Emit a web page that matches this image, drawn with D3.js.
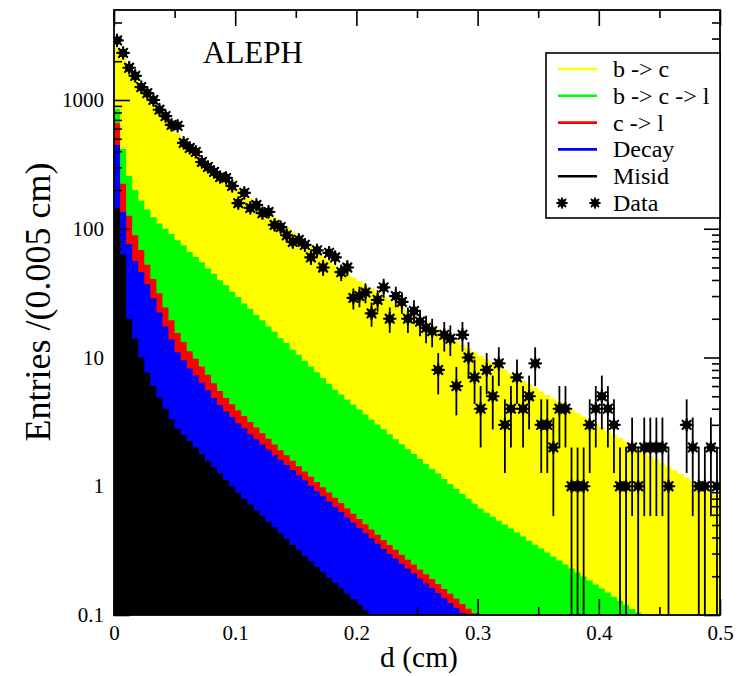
<!DOCTYPE html>
<html>
<head>
<meta charset="utf-8">
<script src="https://cdn.jsdelivr.net/npm/d3@7"></script>
<style>
  html, body { margin: 0; padding: 0; background: #fff; }
  svg { display: block; font-family: "Liberation Serif", "Times New Roman", serif; }
  svg text { font-family: "Liberation Serif", "Times New Roman", serif; }
</style>
</head>
<body>
<svg id="chart" width="746" height="676"></svg>
<script>
// Impact parameter d, bins of 0.005 cm from 0 to 0.5 cm
const binWidth = 0.005;
const binStarts = d3.range(100).map(i => +(i * binWidth).toFixed(3));

// Monte Carlo components (entries per bin), stacked bottom -> top
const misid = [144, 63, 20, 14, 10, 7.6, 6.0, 4.9, 4.0, 3.3,
  2.8, 2.5, 2.24, 2.0, 1.78, 1.58, 1.41, 1.26, 1.12, 1.0,
  0.89, 0.8, 0.72, 0.65, 0.59, 0.53, 0.48, 0.43, 0.39, 0.35,
  0.32, 0.287, 0.261, 0.237, 0.215, 0.195, 0.177, 0.161, 0.146, 0.132,
  0.12, 0.109, 0.099, 0.09, 0.082, 0.074, 0.068, 0.061, 0.056, 0.051,
  0.046, 0.042, 0.038, 0.034, 0.031, 0.028, 0.026, 0.023, 0.021, 0.019,
  0.017, 0.016, 0.014, 0.013, 0.012, 0.011, 0.0097, 0.0088, 0.008, 0.0073,
  0.0066, 0.006, 0.0055, 0.005, 0.0045, 0.0041, 0.0037, 0.0034, 0.0031, 0.0028,
  0.0025, 0.0023, 0.0021, 0.0019, 0.0017, 0.0016, 0.0014, 0.0013, 0.0012, 0.0011,
  0.001, 0.0009, 0.0008, 0.0007, 0.0007, 0.0006, 0.0005, 0.0005, 0.0004, 0.0004];

const decay = [303, 72, 55.9, 42.2, 36.2, 29.6, 22.8, 17.5, 13.4, 10.5,
  8.2, 7.07, 5.97, 5.24, 4.60, 3.98, 3.43, 3.01, 2.68, 2.45,
  2.20, 2.01, 1.82, 1.67, 1.52, 1.39, 1.27, 1.16, 1.07, 0.986,
  0.897, 0.819, 0.748, 0.681, 0.621, 0.565, 0.515, 0.469, 0.427, 0.389,
  0.354, 0.322, 0.293, 0.267, 0.243, 0.224, 0.205, 0.189, 0.173, 0.159,
  0.146, 0.134, 0.124, 0.114, 0.104, 0.096, 0.088, 0.081, 0.074, 0.069,
  0.063, 0.057, 0.053, 0.048, 0.044, 0.041, 0.038, 0.035, 0.032, 0.029,
  0.027, 0.025, 0.023, 0.021, 0.019, 0.017, 0.016, 0.015, 0.013, 0.012,
  0.011, 0.010, 0.0094, 0.0086, 0.0079, 0.0072, 0.0066, 0.006, 0.0055, 0.0051,
  0.0046, 0.0042, 0.0039, 0.0036, 0.0033, 0.003, 0.0027, 0.0025, 0.0023, 0.0021];

const cToL = [214, 89, 50.1, 32.9, 22.2, 15.3, 11.9, 9.2, 7.1, 5.7,
  4.5, 3.63, 2.99, 2.53, 2.13, 1.77, 1.47, 1.23, 1.04, 0.89,
  0.80, 0.70, 0.616, 0.54, 0.474, 0.414, 0.363, 0.317, 0.279, 0.244,
  0.213, 0.194, 0.177, 0.161, 0.146, 0.133, 0.121, 0.110, 0.100, 0.091,
  0.083, 0.076, 0.069, 0.063, 0.057, 0.052, 0.048, 0.044, 0.040, 0.037,
  0.034, 0.031, 0.028, 0.026, 0.024, 0.022, 0.020, 0.018, 0.017, 0.015,
  0.014, 0.0128, 0.0118, 0.0107, 0.0098, 0.0091, 0.0083, 0.0076, 0.007, 0.0064,
  0.0058, 0.0053, 0.0049, 0.0045, 0.0041, 0.0038, 0.0034, 0.0031, 0.0029, 0.0026,
  0.0024, 0.0022, 0.002, 0.0018, 0.0017, 0.0015, 0.0014, 0.0013, 0.0012, 0.0011,
  0.001, 0.0009, 0.0008, 0.0008, 0.0007, 0.0006, 0.0006, 0.0005, 0.0005, 0.0004];

const bToCToL = [190, 193, 131, 111, 97.6, 88.5, 82.3, 78.4, 75.5, 71.7,
  65.8, 60.9, 54.9, 50.5, 46.5, 41.7, 38.4, 34.3, 31.5, 28.1,
  25.6, 22.8, 20.8, 18.5, 16.9, 15.1, 13.7, 12.2, 11.2, 9.92,
  9.07, 8.14, 7.32, 6.59, 5.94, 5.35, 4.81, 4.41, 4.04, 3.70,
  3.38, 3.10, 2.84, 2.60, 2.39, 2.18, 2.0, 1.83, 1.67, 1.53,
  1.40, 1.28, 1.17, 1.08, 0.981, 0.894, 0.821, 0.752, 0.688, 0.629,
  0.576, 0.538, 0.502, 0.469, 0.438, 0.408, 0.381, 0.355, 0.331, 0.309,
  0.289, 0.269, 0.251, 0.235, 0.219, 0.205, 0.191, 0.178, 0.166, 0.155,
  0.145, 0.135, 0.125, 0.117, 0.109, 0.101, 0.095, 0.089, 0.083, 0.077,
  0.072, 0.067, 0.063, 0.058, 0.054, 0.051, 0.047, 0.044, 0.041, 0.038];

const bToC = [1719, 1721, 1521, 1279, 1093, 931, 789, 684, 592, 526,
  469, 416, 371, 329, 300, 275, 250, 229, 209, 192,
  175, 161, 148, 137, 126, 116, 107, 98.4, 90.4, 83.3,
  76.6, 70.6, 65, 59.8, 55, 50.7, 46.6, 42.9, 40.2, 37.7,
  35.4, 33.1, 31.1, 29.1, 27.3, 25.6, 24, 22.5, 21.1, 19.7,
  18.5, 17.3, 16.2, 15.3, 14.3, 13.4, 12.5, 11.7, 11.0, 10.3,
  9.63, 9.07, 8.5, 7.99, 7.5, 7.03, 6.59, 6.18, 5.81, 5.46,
  5.12, 4.81, 4.52, 4.24, 3.97, 3.72, 3.5, 3.28, 3.09, 2.89,
  2.71, 2.54, 2.39, 2.24, 2.1, 1.97, 1.85, 1.74, 1.63, 1.53,
  1.43, 1.35, 1.26, 1.19, 1.11, 1.04, 0.979, 0.92, 0.864, 0.81];

// Observed entries per bin
const dataCounts = [2900, 2320, 1780, 1540, 1260, 1130, 1000, 840, 750, 640,
  630, 464, 424, 395, 330, 302, 276, 252, 248, 215,
  158, 190, 145, 153, 132, 135, 107, 103, 89, 79,
  82, 75, 60, 68, 50, 65, 60, 46, 50, 29,
  30, 32, 22, 28, 35, 20, 30, 27, 20, 23,
  19, 17, 16, 8, 15, 14, 6, 15, 10, 7,
  4, 8, 5, 9, 3, 4, 7, 4, 5, 9,
  3, 3, 2, 4, 4, 1, 1, 1, 3, 4,
  5, 4, 3, 1, 1, 2, 1, 2, 2, 2,
  2, 1, 0, 0, 3, 2, 1, 1, 2, 1];

const seriesKeys = ["misid", "decay", "cToL", "bToCToL", "bToC"];
const seriesValues = { misid, decay, cToL, bToCToL, bToC };
const seriesColors = { bToC: "#ffff00", bToCToL: "#00ff00", cToL: "#ff0000", decay: "#0000ff", misid: "#000000" };
const legendLabels = ["b -> c", "b -> c -> l", "c -> l", "Decay", "Misid"];
const legendKeys = ["bToC", "bToCToL", "cToL", "decay", "misid"];

const xTickValues = [0, 0.1, 0.2, 0.3, 0.4, 0.5];
const xMinorTicks = [0.05, 0.15, 0.25, 0.35, 0.45];
const yTickValues = [0.1, 1, 10, 100, 1000];
const yTickLabels = ["0.1", "1", "10", "100", "1000"];

const serif = '"Liberation Serif", "Times New Roman", serif';
const svg = d3.select("#chart");
const plot = { left: 114, right: 720, top: 10, bottom: 615 };

const x = d3.scaleLinear().domain([0, 0.5]).range([plot.left, plot.right]);
const y = d3.scaleLog().domain([0.1, 5000]).range([plot.bottom, plot.top]).clamp(true);

svg.append("defs").append("clipPath").attr("id", "plotClip")
  .append("rect")
  .attr("x", plot.left).attr("y", plot.top)
  .attr("width", plot.right - plot.left).attr("height", plot.bottom - plot.top);

// Stack the components
const rows = binStarts.map((d, i) => {
  const r = { d };
  seriesKeys.forEach(k => { r[k] = seriesValues[k][i] || 0; });
  return r;
});
const stacked = d3.stack().keys(seriesKeys)(rows);

const area = d3.area()
  .curve(d3.curveStepAfter)
  .x(p => x(p.d))
  .y0(plot.bottom)
  .y1(p => y(Math.max(p.top, 1e-4)));

const fillG = svg.append("g").attr("clip-path", "url(#plotClip)");
// Paint from the top of the stack downward so each band covers the one above
stacked.slice().reverse().forEach(s => {
  const pts = s.map((p, i) => ({ d: binStarts[i], top: p[1] }));
  pts.push({ d: 0.5, top: pts[pts.length - 1].top });
  fillG.append("path")
    .attr("d", area(pts))
    .attr("fill", seriesColors[s.key]);
});

// Axes: ticks pointing into the frame on all four sides
const axisStyle = g => {
  g.attr("font-family", null).attr("font-size", null);
  g.select(".domain").remove();
  g.selectAll(".tick line").attr("stroke", "#000").attr("stroke-width", 1.6);
  g.selectAll(".tick text").attr("fill", "#000")
    .style("font-family", serif).style("font-size", "21px");
};

const yMinorTicks = [];
[0.1, 1, 10, 100, 1000].forEach(dec => {
  for (let k = 2; k <= 9; k++) {
    const v = dec * k;
    if (v < 5000) yMinorTicks.push(v);
  }
});

svg.append("g").attr("transform", `translate(0,${plot.bottom})`)
  .call(d3.axisBottom(x).tickValues(xTickValues).tickSize(-16).tickPadding(10)
    .tickFormat(d => d === 0 ? "0" : d3.format(".1f")(d)))
  .call(axisStyle);
svg.append("g").attr("transform", `translate(0,${plot.bottom})`)
  .call(d3.axisBottom(x).tickValues(xMinorTicks).tickSize(-8).tickFormat(""))
  .call(axisStyle);
svg.append("g").attr("transform", `translate(0,${plot.top})`)
  .call(d3.axisTop(x).tickValues(xTickValues).tickSize(-16).tickFormat(""))
  .call(axisStyle);
svg.append("g").attr("transform", `translate(0,${plot.top})`)
  .call(d3.axisTop(x).tickValues(xMinorTicks).tickSize(-8).tickFormat(""))
  .call(axisStyle);

svg.append("g").attr("transform", `translate(${plot.left},0)`)
  .call(d3.axisLeft(y).tickValues(yTickValues).tickSize(-16).tickPadding(10)
    .tickFormat((d, i) => yTickLabels[i]))
  .call(axisStyle);
svg.append("g").attr("transform", `translate(${plot.left},0)`)
  .call(d3.axisLeft(y).tickValues(yMinorTicks).tickSize(-8).tickFormat(""))
  .call(axisStyle);
svg.append("g").attr("transform", `translate(${plot.right},0)`)
  .call(d3.axisRight(y).tickValues(yTickValues).tickSize(-16).tickFormat(""))
  .call(axisStyle);
svg.append("g").attr("transform", `translate(${plot.right},0)`)
  .call(d3.axisRight(y).tickValues(yMinorTicks).tickSize(-8).tickFormat(""))
  .call(axisStyle);

// Data points with Poisson error bars
const dataG = svg.append("g").attr("clip-path", "url(#plotClip)");
const dataRows = binStarts.map((d, i) => ({ d, n: dataCounts[i] })).filter(r => r.n > 0);

const starPath = (cx, cy, r) => {
  let p = "";
  for (let k = 0; k < 4; k++) {
    const a = k * Math.PI / 4;
    const dx = r * Math.cos(a), dy = r * Math.sin(a);
    p += `M${cx - dx},${cy - dy}L${cx + dx},${cy + dy}`;
  }
  return p;
};
const drawMarker = (g, cx, cy, s) => {
  g.append("circle").attr("cx", cx).attr("cy", cy).attr("r", 4.3 * s).attr("fill", "#000");
  g.append("path").attr("d", starPath(cx, cy, 5.8 * s))
    .attr("stroke", "#000").attr("stroke-width", 2.2 * s).attr("stroke-linecap", "round");
};

dataRows.forEach(r => {
  const cx = x(r.d + binWidth / 2);
  const cy = y(r.n);
  const err = Math.sqrt(r.n);
  dataG.append("line")
    .attr("x1", cx).attr("x2", cx)
    .attr("y1", y(Math.max(r.n - err, 1e-3))).attr("y2", y(r.n + err))
    .attr("stroke", "#000").attr("stroke-width", 1.8);
  dataG.append("line")
    .attr("x1", x(r.d)).attr("x2", x(r.d + binWidth))
    .attr("y1", cy).attr("y2", cy)
    .attr("stroke", "#000").attr("stroke-width", 1.8);
  drawMarker(dataG, cx, cy, 1);
});

// Frame
svg.append("rect")
  .attr("x", plot.left).attr("y", plot.top)
  .attr("width", plot.right - plot.left).attr("height", plot.bottom - plot.top)
  .attr("fill", "none").attr("stroke", "#000").attr("stroke-width", 1.8);

// Experiment label
svg.append("text").attr("x", 203).attr("y", 63)
  .style("font-size", "31px").attr("fill", "#000").text("ALEPH");

// Axis titles
svg.append("text").attr("x", 419).attr("y", 667).attr("text-anchor", "middle")
  .style("font-size", "29.5px").attr("fill", "#000").text("d (cm)");
svg.append("text")
  .attr("transform", "translate(50,302) rotate(-90)")
  .attr("text-anchor", "middle")
  .style("font-size", "36px").attr("fill", "#000").text("Entries /(0.005 cm)");

// Legend
const legend = svg.append("g");
legend.append("rect")
  .attr("x", 546).attr("y", 53).attr("width", 174).attr("height", 165)
  .attr("fill", "#fff").attr("stroke", "#000").attr("stroke-width", 1.6);
const rowY = i => 69 + i * 26.8;
legendKeys.forEach((k, i) => {
  legend.append("line")
    .attr("x1", 558).attr("x2", 597).attr("y1", rowY(i)).attr("y2", rowY(i))
    .attr("stroke", seriesColors[k]).attr("stroke-width", 2.6);
  legend.append("text").attr("x", 613).attr("y", rowY(i) + 8)
    .style("font-size", "24px").attr("fill", "#000").text(legendLabels[i]);
});
[562, 595].forEach(cx => drawMarker(legend, cx, rowY(5), 0.85));
legend.append("text").attr("x", 613).attr("y", rowY(5) + 8)
  .style("font-size", "24px").attr("fill", "#000").text("Data");
</script>
</body>
</html>
